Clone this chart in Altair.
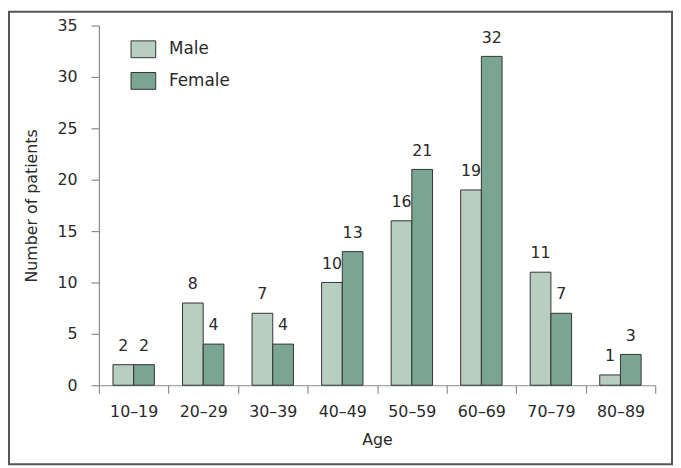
import altair as alt
import pandas as pd

ages = ["10–19", "20–29", "30–39", "40–49", "50–59", "60–69", "70–79", "80–89"]
male = [2, 8, 7, 10, 16, 19, 11, 1]
female = [2, 4, 4, 13, 21, 32, 7, 3]
groups = ["Male", "Female"]
colors = ["#b8cec1", "#7aa592"]

rows = []
for a, m, f in zip(ages, male, female):
    rows.append({"age": a, "sex": "Male", "n": m})
    rows.append({"age": a, "sex": "Female", "n": f})
df = pd.DataFrame(rows)

FONT = "DejaVu Sans"
TXT = "#2a2a2a"
AX = "#8c8c8c"

x_enc = alt.X(
    "age:N", sort=ages, title="Age",
    scale=alt.Scale(paddingInner=0, paddingOuter=0),
    axis=alt.Axis(labelAngle=0, tickBand="extent", tickSize=8, labelPadding=11,
                  titlePadding=12),
)
xo_enc = alt.XOffset("sex:N", sort=groups,
                     scale=alt.Scale(paddingInner=0, paddingOuter=0.68))
y_enc = alt.Y(
    "n:Q", title="Number of patients",
    scale=alt.Scale(domain=[0, 35], nice=False),
    axis=alt.Axis(values=list(range(0, 36, 5)), tickSize=8, labelPadding=14,
                  grid=False, titlePadding=18),
)

base = alt.Chart(df).encode(x=x_enc, xOffset=xo_enc, y=y_enc)

bars = base.mark_bar(stroke="#333333", strokeWidth=1).encode(
    color=alt.Color(
        "sex:N", sort=groups,
        scale=alt.Scale(domain=groups, range=colors),
        legend=alt.Legend(
            title=None, orient="none", legendX=32, legendY=11, padding=0,
            symbolType="M-1,-0.68L1,-0.68L1,0.68L-1,0.68Z", symbolSize=625,
            symbolStrokeColor="#333333", symbolStrokeWidth=1,
            labelFontSize=17, labelColor=TXT, labelFont=FONT,
            labelOffset=13, rowPadding=8,
        ),
    )
)

labels = base.mark_text(
    baseline="alphabetic", dy=-14, fontSize=16, font=FONT, color=TXT
).encode(text="n:Q")

border = alt.Chart(pd.DataFrame({"a": [0]})).mark_rect(
    fill=None, stroke="#555555", strokeWidth=2
).encode(
    x=alt.value(-91), x2=alt.value(580), y=alt.value(-14), y2=alt.value(444)
)

chart = (
    alt.layer(bars, labels, border)
    .properties(
        width=563, height=364,
        autosize=alt.AutoSizeParams(type="none"),
        padding={"left": 92, "top": 15, "right": 18, "bottom": 81},
    )
    .configure_view(stroke=None)
    .configure_axis(
        labelFont=FONT, titleFont=FONT, labelFontSize=16, titleFontSize=16,
        labelColor=TXT, titleColor=TXT, titleFontWeight="normal",
        domainColor=AX, tickColor=AX, domainWidth=1.2, tickWidth=1.2,
    )
)

chart.save("out.html", embed_options={"renderer": "svg", "actions": False})
